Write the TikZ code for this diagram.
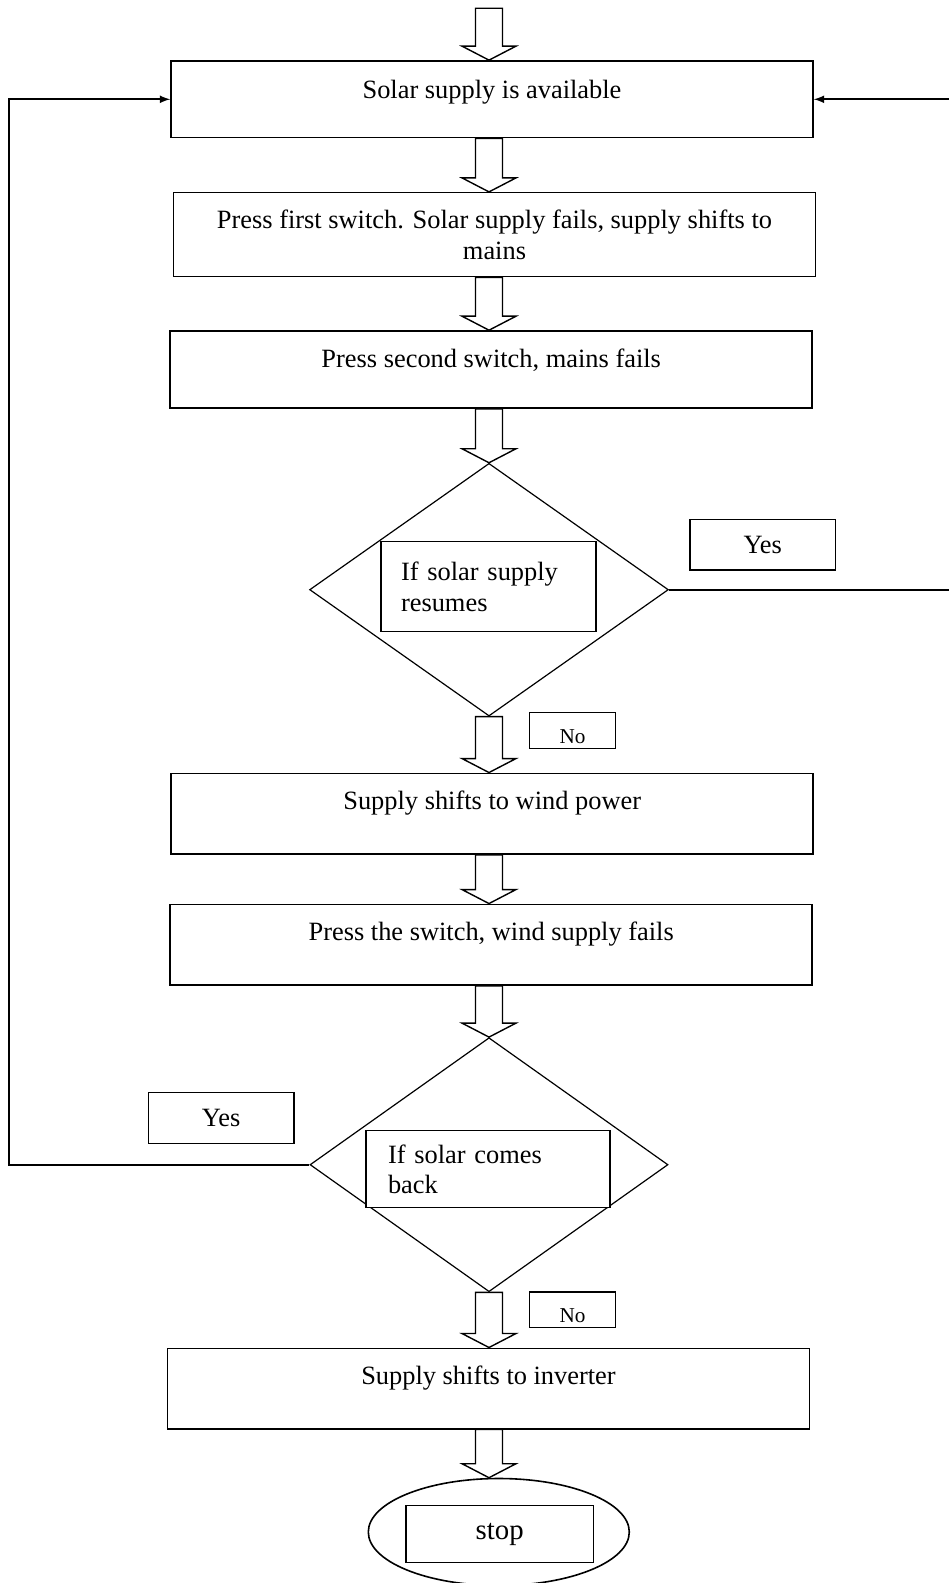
\documentclass[tikz,border=0pt]{standalone}
\usepackage{fontspec}
\setmainfont{Liberation Serif}
\usetikzlibrary{shapes.geometric, calc}

\newcommand{\mainsize}{\fontsize{13.2pt}{15.3pt}\selectfont}
\newcommand{\fatarrow}[2]{%
  \coordinate (tail) at (axis |- #1);
  \coordinate (tip) at (axis |- #2);
  \draw[fat] ($(tail)+(-13.5,0)$) -- ($(tip)+(-13.5,-14)$) -- ($(tip)+(-27,-14)$)
    -- (tip) -- ($(tip)+(27,-14)$) -- ($(tip)+(13.5,-14)$) -- ($(tail)+(13.5,0)$) -- cycle;}

\begin{document}
\begin{tikzpicture}[x=0.5pt, y=-0.5pt,
  box/.style={draw, line width=0.8pt, minimum width=321pt, inner sep=0pt, align=center, font=\mainsize},
  onebox/.style={box, text depth=14pt},
  decision/.style={draw, diamond, line width=0.6pt, inner sep=0pt},
  askbox/.style={draw, fill=white, line width=0.7pt, align=left, font=\mainsize, inner ysep=0pt},
  tagbox/.style={draw, line width=0.7pt, inner sep=1pt, minimum width=72.75pt, minimum height=25.35pt, font=\mainsize},
  notag/.style={draw, line width=0.7pt, inner sep=1pt, minimum width=43pt, minimum height=17.8pt,
    font=\fontsize{10.6pt}{12pt}\selectfont, text height=13pt, text depth=0pt},
  fat/.style={draw, fill=white, line width=0.7pt, line join=miter},
  backline/.style={line width=0.8pt, -latex}]
	\useasboundingbox (0,0) rectangle (948,1583);
	\coordinate (axis) at (489,0);
	\coordinate (start) at (489,8.3);
	% Process boxes
	\node[onebox, minimum height=38.35pt, text depth=10pt] (box1) at (492,99.3) {Solar supply is available};
	\node[box, minimum height=42pt] (box2) at (494.5,234.7) {Press first switch. Solar supply fails, supply shifts to\\mains};
	\node[onebox, minimum height=38.5pt, text depth=11pt] (box3) at (491.2,369.5) {Press second switch, mains fails};
	\node[onebox, minimum height=40.35pt] (box4) at (492.2,813.7) {Supply shifts to wind power};
	\node[onebox, minimum height=40.35pt] (box5) at (491.2,944.7) {Press the switch, wind supply fails};
	\node[onebox, minimum height=40.2pt, text depth=13pt] (box6) at (488.5,1388.5) {Supply shifts to inverter};
	% Decisions
	\node[decision, minimum width=179.4pt, minimum height=126.35pt] (dec1) at (489,589.7) {};
	\node[askbox, minimum width=107.5pt, minimum height=45pt, text width=87.5pt, inner xsep=10pt] (ask1) at (488.5,586.7) {If solar supply\\resumes};
	\node[decision, minimum width=179pt, minimum height=127pt] (dec2) at (489,1164.7) {};
	\node[askbox, minimum width=122pt, minimum height=38.5pt, text width=100pt, inner xsep=11pt] (ask2) at (488,1169.2) {If solar comes\\back};
	% Yes / No tags
	\node[tagbox] (yes1) at (762.7,544.7) {Yes};
	\node[tagbox] (yes2) at (221.2,1118) {Yes};
	\node[notag] (no1) at (572.6,730.5) {No};
	\node[notag] (no2) at (572.5,1309.7) {No};
	% Stop
	\node[draw, ellipse, line width=0.8pt, minimum width=130.5pt, minimum height=53.5pt] (endoval) at (498.8,1532) {};
	\node[draw, line width=0.7pt, minimum width=93.6pt, minimum height=28.5pt, font=\fontsize{14.4pt}{16pt}\selectfont] (stopbox) at (499.7,1534.2) {stop};
	% Block arrows
	\fatarrow{start}{box1.north}
	\fatarrow{box1.south}{box2.north}
	\fatarrow{box2.south}{box3.north}
	\fatarrow{box3.south}{dec1.north}
	\fatarrow{dec1.south}{box4.north}
	\fatarrow{box4.south}{box5.north}
	\fatarrow{box5.south}{dec2.north}
	\fatarrow{dec2.south}{box6.north}
	\fatarrow{box6.south}{endoval.north}
	% Yes branches back to the top
	\coordinate (leftrail) at (9,0);
	\coordinate (rightrail) at (952,0);
	\draw[backline] (dec2.west) -- (leftrail |- dec2.west) |- (box1.west);
	\draw[backline] (dec1.east) -- (rightrail |- dec1.east) |- (box1.east);
\end{tikzpicture}
\end{document}
